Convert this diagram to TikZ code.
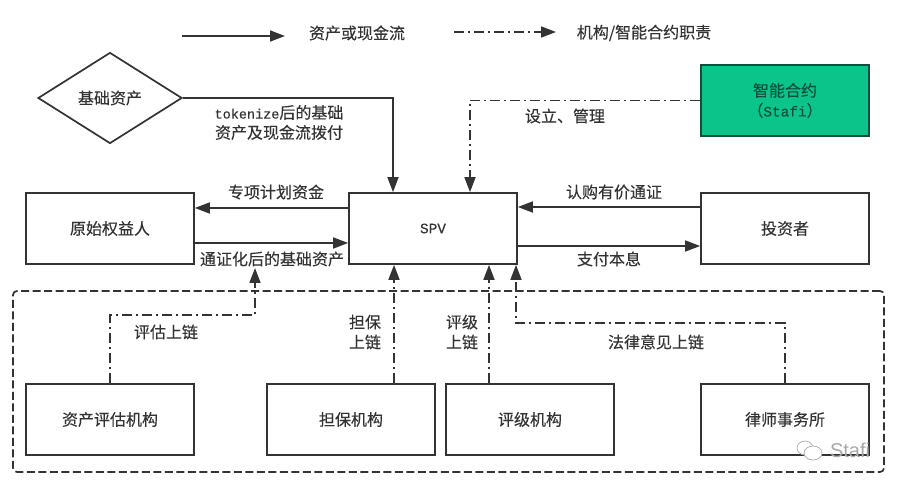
\documentclass[tikz,border=0pt]{standalone}
\usepackage{fontspec}
\setmainfont[FakeBold=0.25]{Noto Sans CJK SC}
\newfontfamily\latinfont[Scale=0.9,FakeBold=0.25]{Liberation Mono}
\newfontfamily\markfont{Liberation Sans}
\usepackage{tikz}
\usetikzlibrary{arrows.meta,shapes.geometric}
\definecolor{inkgray}{HTML}{333333}
\definecolor{contractgreen}{HTML}{0BC48A}
\definecolor{contractdark}{HTML}{0E4F3C}
\definecolor{marktext}{HTML}{A8A8A8}

\begin{document}
\begin{tikzpicture}[->,>={Triangle[length=15pt,width=11pt]},x=1pt,y=1pt,
                    line width=1.7pt,draw=inkgray,text=inkgray,
                    font=\fontsize{16}{20}\selectfont,auto]
  \tikzstyle{party}=[draw,rectangle,minimum width=168pt,minimum height=71pt,inner sep=0pt]
  \tikzstyle{duty}=[dash pattern=on 10pt off 4pt on 2pt off 4pt]
  \tikzstyle{caption}=[inner sep=0pt,align=center]
  \useasboundingbox (0,0) rectangle (902,487);

  \node[draw,dash pattern=on 8pt off 3.5pt,rounded corners=4pt,minimum width=871pt,minimum height=181pt] (chain) at (448.5,105.5) {};

  \node[party]         (orig) at (110,258.5)                         {原始权益人};
  \node[party]         (spv)  [right of=orig,node distance=323pt]    {\latinfont SPV};
  \node[party]         (inv)  [right of=spv,node distance=352pt]     {投资者};
  \node[party,fill=contractgreen,draw=contractdark,text=contractdark,align=center]
                       (smart) [above of=inv,node distance=128pt]    {智能合约\\（{\latinfont Stafi}）};
  \node[draw,diamond,aspect=1.58,inner sep=0pt,minimum width=144pt,minimum height=91pt]
                       (basic) [above of=orig,node distance=130.5pt] {基础资产};
  \node[party]         (appr) [below of=orig,node distance=191pt]    {资产评估机构};
  \node[party]         (guar) [right of=appr,node distance=241pt]    {担保机构};
  \node[party]         (rate) [right of=guar,node distance=179pt]    {评级机构};
  \node[party]         (law)  [right of=rate,node distance=255pt]    {律师事务所};

  % legend
  \coordinate (solidA) at (182,451);
  \coordinate (solidB) at (285,451);
  \coordinate (dutyA)  at (454,455);
  \coordinate (dutyB)  at (556,455);
  \path (solidA) edge (solidB)
        (dutyA)  edge [duty] (dutyB);
  \node[caption] (solidtext) at (357,454) {资产或现金流};
  \node[caption] (dutytext)  at (644,454) {机构/智能合约职责};

  \draw (basic.east) -| ([xshift=-40pt]spv.north);
  \path ([yshift=20.5pt]spv.west)   edge ([yshift=20.5pt]orig.east)
        ([yshift=-14.5pt]orig.east) edge ([yshift=-14.5pt]spv.west)
        ([yshift=21.5pt]inv.west)   edge ([yshift=21.5pt]spv.east)
        ([yshift=-17.5pt]spv.east)  edge ([yshift=-17.5pt]inv.west);

  \draw[duty] (smart.west) -| ([xshift=37pt]spv.north);
  \draw[duty] (appr.north) |- (255,172) -- (255,219);
  \path ([xshift=43pt]guar.north) edge [duty] ([xshift=-39pt]spv.south)
        ([xshift=-41pt]rate.north) edge [duty] ([xshift=56pt]spv.south);
  \draw[duty] (law.north) |- (516,164) -- ([xshift=83pt]spv.south);

  \node[caption] (tokentext) at (279,364.5) {{\fontsize{15}{20}\selectfont\latinfont tokenize}后的基础\\资产及现金流拨付};
  \node[caption] (fundtext)  at (276,295)   {专项计划资金};
  \node[caption] (assettext) at (272,228)   {通证化后的基础资产};
  \node[caption] (settext)   at (565,371)   {设立、管理};
  \node[caption] (buytext)   at (614,295)   {认购有价通证};
  \node[caption] (paytext)   at (609,228)   {支付本息};
  \node[caption] (apprtext)  at (166,155)   {评估上链};
  \node[caption] (guartext)  at (365,155)   {担保\\上链};
  \node[caption] (ratetext)  at (462,155)   {评级\\上链};
  \node[caption] (lawtext)   at (656,145)   {法律意见上链};

  % watermark
  \draw[-,marktext,line width=.7pt,fill=white] (805,39) ellipse (8pt and 7pt);
  \draw[-,marktext,line width=.7pt,fill=white] (813,34) ellipse (9pt and 7pt);
  \node[caption,text=marktext,font=\markfont\fontsize{20}{20}\selectfont] (mark) at (850,37) {Stafi};
\end{tikzpicture}
\end{document}
